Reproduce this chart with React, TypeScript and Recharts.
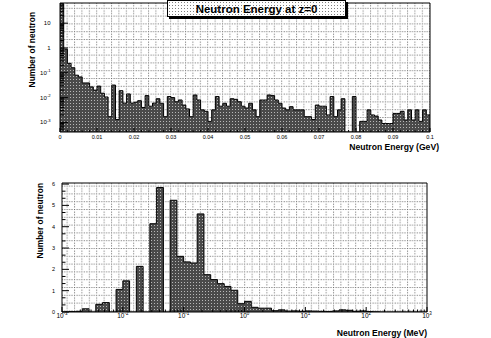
import { Area, CartesianGrid, ComposedChart, Label, ReferenceArea, XAxis, YAxis } from 'recharts'

const FONT = '"Liberation Sans", Arial, Helvetica, sans-serif'

// top histogram: 100 bins of 1 MeV from 0 to 0.1 GeV (0 = empty bin)
const gevCounts = [
  60, 0.9, 0.24, 0.16, 0.08, 0.068, 0.039, 0.039, 0.027, 0.02,
  0.029, 0.015, 0.0106, 0.0017, 0.032, 0.0013, 0.019, 0.006, 0.014, 0.006,
  0.0065, 0.0075, 0.004, 0.012, 0.0045, 0.006, 0.009, 0.0059, 0.0017, 0.011,
  0.01, 0.0068, 0.008, 0.005, 0.0035, 0.0017, 0.0127, 0.008, 0.0032, 0.0028,
  0.0011, 0.0032, 0.011, 0.0045, 0.0059, 0.0045, 0.009, 0.0085, 0.0068, 0.0045,
  0.0038, 0.0059, 0.0032, 0.0017, 0.008, 0.008, 0.0127, 0.012, 0.008, 0.0059,
  0.0038, 0.0032, 0.0043, 0.0032, 0.0032, 0.0032, 0.0017, 0.0017, 0.0013, 0.005,
  0.0045, 0.0045, 0.002, 0.011, 0.0017, 0.0032, 0.009, 0, 0, 0.011,
  0, 0.0011, 0.0011, 0.0032, 0.002, 0.0018, 0.00125, 0.0009, 0.0009, 0.0009,
  0.0023, 0.0023, 0.0028, 0.00125, 0.0032, 0.00125, 0.0032, 0.0011, 0.0032, 0.002,
]
const gevBinWidth = 0.001
const gevXLabels = ['0', '0.01', '0.02', '0.03', '0.04', '0.05', '0.06', '0.07', '0.08', '0.09', '0.1']
const gevYDecades = [-3, -2, -1, 0, 1]
const GEV_Y_MIN = 0.00041
const GEV_Y_MAX = 65

// bottom histogram: 9 log bins per decade starting at 1e-3 MeV
const mevCounts = [
  0, 0.02, 0.03, 0.15, 0, 0.36, 0.44, 0, 1.06, 1.46,
  0, 2.14, 0, 4.14, 5.84, 0, 5.24, 2.61, 2.35, 2.3,
  4.6, 1.75, 1.52, 1.33, 1.2, 1.02, 0.39, 0.5, 0.22, 0.18,
  0.18, 0.06, 0.1, 0.04, 0.05, 0.03, 0.05, 0.04, 0.03, 0.02,
  0.05, 0.1, 0.08, 0.03, 0.05, 0.02, 0.01, 0, 0, 0,
  0, 0, 0, 0,
]
const mevBinsPerDecade = 9
const mevXDecades = [-3, -2, -1, 0, 1, 2, 3]
const mevYLabels = [0, 1, 2, 3, 4, 5, 6]
const MEV_Y_MAX = 6.05

const gevRows = gevCounts.map((n, i) => ({ e: i * gevBinWidth, n: Math.max(n, GEV_Y_MIN) }))
gevRows.push({ e: 0.1, n: gevRows[gevRows.length - 1].n })

const mevRows = mevCounts.map((n, i) => ({ e: Math.pow(10, -3 + i / mevBinsPerDecade), n }))
mevRows.push({ e: 1000, n: 0 })

const gevXMajor = gevXLabels.map(Number)
const gevXTicks: number[] = []
for (let i = 0; i <= 50; i++) gevXTicks.push(i * 0.002)

const logTicks = (lo: number, hi: number, from: number, to: number) => {
  const out: number[] = []
  for (let d = from; d <= to; d++) {
    for (let m = 1; m <= 9; m++) {
      const v = m * Math.pow(10, d)
      if (v >= lo && v <= hi) out.push(v)
    }
  }
  return out
}
const gevYTicks = logTicks(GEV_Y_MIN, GEV_Y_MAX, -4, 1)
const mevXTicks = logTicks(0.001, 1000, -3, 3)
const mevYTicks: number[] = []
for (let i = 0; i <= 18; i++) mevYTicks.push(i / 3)

const isDecade = (v: number) => Math.abs(Math.log10(v) - Math.round(Math.log10(v))) < 1e-6

function powText(x: number, y: number, exp: number, size: number, anchor: string) {
  if (exp === 0) return <text x={x} y={y} textAnchor={anchor} fontSize={size} fontFamily={FONT}>1</text>
  if (exp === 1) return <text x={x} y={y} textAnchor={anchor} fontSize={size} fontFamily={FONT}>10</text>
  return (
    <text x={x} y={y} textAnchor={anchor} fontSize={size} fontFamily={FONT}>
      10<tspan dy={-2.6} fontSize={size * 0.7}>{exp}</tspan>
    </text>
  )
}

function GevXTick(props: any) {
  const { x, y, payload } = props
  const idx = gevXMajor.findIndex((m) => Math.abs(m - payload.value) < 1e-9)
  const len = idx >= 0 ? 4 : 2
  return (
    <g>
      <line x1={x} x2={x} y1={y} y2={y - len} stroke="#000" />
      {idx >= 0 && (
        <text x={x} y={y + 7} textAnchor="middle" fontSize={5.5} fontFamily={FONT}>
          {gevXLabels[idx]}
        </text>
      )}
    </g>
  )
}

function GevYTick(props: any) {
  const { x, y, payload } = props
  const major = isDecade(payload.value)
  const exp = Math.round(Math.log10(payload.value))
  return (
    <g>
      <line x1={x} x2={x + (major ? 8 : 4)} y1={y} y2={y} stroke="#000" />
      {major && gevYDecades.includes(exp) && powText(x - 9.5, y + 2, exp, 6, 'end')}
    </g>
  )
}

function MevXTick(props: any) {
  const { x, y, payload } = props
  const major = isDecade(payload.value)
  const exp = Math.round(Math.log10(payload.value))
  return (
    <g>
      <line x1={x} x2={x} y1={y} y2={y - (major ? 5 : 2.5)} stroke="#000" />
      {major && mevXDecades.includes(exp) && (
        <text x={x} y={y + 5.5} textAnchor="middle" fontSize={6.5} fontFamily={FONT}>
          10<tspan dy={-2.8} fontSize={4.5}>{exp}</tspan>
        </text>
      )}
    </g>
  )
}

function MevYTick(props: any) {
  const { x, y, payload } = props
  const major = mevYLabels.some((m) => Math.abs(m - payload.value) < 1e-9)
  return (
    <g>
      <line x1={x} x2={x + (major ? 7 : 3.5)} y1={y} y2={y} stroke="#000" />
      {major && (
        <text x={x - 7} y={y + 2} textAnchor="end" fontSize={5.5} fontFamily={FONT}>
          {Math.round(payload.value)}
        </text>
      )}
    </g>
  )
}

function Patterns({ id }: { id: string }) {
  return (
    <defs>
      <pattern id={`${id}-bg`} width={7.4} height={7.8} patternUnits="userSpaceOnUse">
        <rect width={7.4} height={7.8} fill="#fff" />
        <rect x={0} y={0} width={1} height={1} fill="#666" />
        <rect x={2.5} y={0} width={1} height={1} fill="#666" />
        <rect x={5} y={0} width={1} height={1} fill="#666" />
        <rect x={0} y={2.6} width={1} height={1} fill="#666" />
        <rect x={0} y={5.2} width={1} height={1} fill="#666" />
      </pattern>
      <pattern id={`${id}-fill`} width={3} height={3} patternUnits="userSpaceOnUse">
        <rect width={3} height={3} fill="#4a4a4a" />
        <rect x={1} y={1} width={1} height={1} fill="#b8b8b8" />
      </pattern>
    </defs>
  )
}

const axisTitle = (text: string, dx: number, dy: number) => (p: any) => {
  const vb = p.viewBox
  return (
    <text x={vb.x + vb.width + dx} y={vb.y + dy} textAnchor="end" fontSize={8.6} fontWeight="bold" fontFamily={FONT}>
      {text}
    </text>
  )
}

const yTitle = (text: string, x: number, dy: number) => (p: any) => {
  const vb = p.viewBox
  const y = vb.y + dy
  return (
    <text x={x} y={y} transform={`rotate(-90, ${x}, ${y})`} textAnchor="end" fontSize={8.4} fontWeight="bold" fontFamily={FONT}>
      {text}
    </text>
  )
}

export default function App() {
  return (
    <div style={{ position: 'absolute', left: 0, top: 0, width: 491, height: 338, background: '#fff', overflow: 'hidden' }}>
      <div style={{ position: 'absolute', left: 0, top: 0 }}>
        <ComposedChart width={491} height={160} data={gevRows} margin={{ top: 3, right: 61, bottom: 0, left: 0 }}>
          <Patterns id="gev" />
          <CartesianGrid horizontal={false} vertical={false} fill="url(#gev-bg)" />
          <XAxis
            dataKey="e"
            type="number"
            domain={[0, 0.1]}
            allowDataOverflow
            ticks={gevXTicks}
            interval={0}
            tickSize={0}
            tickMargin={0}
            axisLine={false}
            tickLine={false}
            tick={GevXTick}
            height={28}
          >
            <Label content={axisTitle('Neutron Energy (GeV)', 9, 18)} />
          </XAxis>
          <YAxis
            type="number"
            scale="log"
            domain={[GEV_Y_MIN, GEV_Y_MAX]}
            allowDataOverflow
            ticks={gevYTicks}
            interval={0}
            tickSize={0}
            tickMargin={0}
            axisLine={false}
            tickLine={false}
            tick={GevYTick}
            width={60}
          >
            <Label content={yTitle('Number of neutron', 35, 9)} />
          </YAxis>
          <Area
            type="stepAfter"
            dataKey="n"
            stroke="#000"
            strokeWidth={1}
            fill="url(#gev-fill)"
            fillOpacity={1}
            dot={false}
            activeDot={false}
            isAnimationActive={false}
          />
          <ReferenceArea x1={0} x2={0.1} y1={GEV_Y_MIN} y2={GEV_Y_MAX} fill="none" stroke="#000" ifOverflow="visible" />
        </ComposedChart>
      </div>

      <div
        style={{
          position: 'absolute',
          left: 167,
          top: 0,
          width: 177,
          height: 15,
          border: '1px solid #000',
          boxShadow: '2px 2px 0 #000',
          backgroundColor: '#fff',
          backgroundImage: 'radial-gradient(#808080 0.6px, transparent 0.8px)',
          backgroundSize: '3px 3px',
          fontFamily: FONT,
          fontWeight: 'bold',
          fontSize: 11.5,
          lineHeight: '16px',
          textAlign: 'center',
        }}
      >
        Neutron Energy at z=0
      </div>

      <div style={{ position: 'absolute', left: 0, top: 170 }}>
        <ComposedChart width={491} height={168} data={mevRows} margin={{ top: 13, right: 64, bottom: 0, left: 0 }}>
          <Patterns id="mev" />
          <CartesianGrid horizontal={false} vertical={false} fill="url(#mev-bg)" />
          <XAxis
            dataKey="e"
            type="number"
            scale="log"
            domain={[0.001, 1000]}
            allowDataOverflow
            ticks={mevXTicks}
            interval={0}
            tickSize={0}
            tickMargin={0}
            axisLine={false}
            tickLine={false}
            tick={MevXTick}
            height={26}
          >
            <Label content={axisTitle('Neutron Energy (MeV)', 0, 24)} />
          </XAxis>
          <YAxis
            type="number"
            domain={[0, MEV_Y_MAX]}
            allowDataOverflow
            ticks={mevYTicks}
            interval={0}
            tickSize={0}
            tickMargin={0}
            axisLine={false}
            tickLine={false}
            tick={MevYTick}
            width={62}
          >
            <Label content={yTitle('Number of neutron', 43, 0)} />
          </YAxis>
          <Area
            type="stepAfter"
            dataKey="n"
            stroke="#000"
            strokeWidth={1}
            fill="url(#mev-fill)"
            fillOpacity={1}
            dot={false}
            activeDot={false}
            isAnimationActive={false}
          />
          <ReferenceArea x1={0.001} x2={1000} y1={0} y2={MEV_Y_MAX} fill="none" stroke="#000" ifOverflow="visible" />
        </ComposedChart>
      </div>
    </div>
  )
}
